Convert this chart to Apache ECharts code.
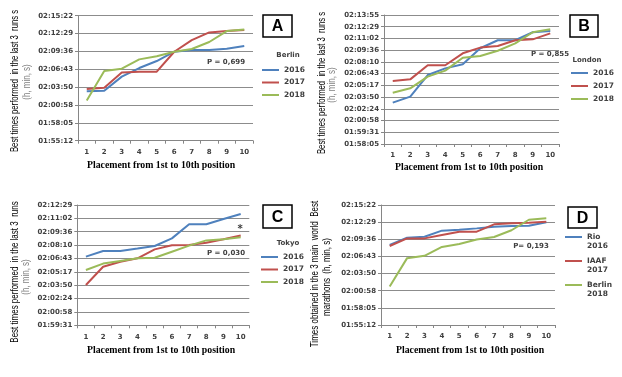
<!DOCTYPE html>
<html><head><meta charset="utf-8">
<script src="https://cdn.jsdelivr.net/npm/echarts@6/dist/echarts.min.js"></script>
<style>html,body{margin:0;padding:0;background:#fff}#c{width:622px;height:377px}</style>
</head><body><div id="c"></div>
<script>
// ---- data (times h:mm:ss) ----
const positions = ['1','2','3','4','5','6','7','8','9','10'];
const berlin2016 = ['2:03:10','2:03:16','2:05:32','2:06:55','2:08:03','2:09:33','2:09:50','2:09:50','2:10:02','2:10:28'];
const berlin2017 = ['2:03:32','2:03:45','2:06:13','2:06:20','2:06:20','2:09:33','2:11:26','2:12:40','2:12:53','2:13:03'];
const berlin2018 = ['2:01:40','2:06:26','2:06:49','2:08:19','2:08:49','2:09:33','2:09:59','2:11:07','2:12:53','2:13:09'];
const london2016 = ['2:03:10','2:03:54','2:06:33','2:07:22','2:07:52','2:09:50','2:10:49','2:10:49','2:11:48','2:11:57'];
const london2017 = ['2:05:49','2:06:01','2:07:45','2:07:45','2:09:13','2:09:55','2:10:07','2:10:49','2:10:56','2:11:40'];
const london2018 = ['2:04:23','2:04:55','2:06:21','2:07:05','2:08:40','2:08:53','2:09:32','2:10:26','2:11:48','2:12:10'];
const tokyo2016 = ['2:06:55','2:07:31','2:07:31','2:07:47','2:08:04','2:08:53','2:10:24','2:10:24','2:10:58','2:11:31'];
const tokyo2017 = ['2:03:52','2:05:50','2:06:22','2:06:44','2:07:42','2:08:08','2:08:10','2:08:25','2:08:47','2:09:11'];
const tokyo2018 = ['2:05:29','2:06:10','2:06:27','2:06:44','2:06:48','2:07:27','2:08:06','2:08:40','2:08:47','2:09:00'];
const rio2016 = ['2:08:38','2:09:52','2:10:02','2:11:03','2:11:13','2:11:26','2:11:43','2:11:50','2:11:53','2:12:27'];
const iaaf2017 = ['2:08:28','2:09:45','2:09:45','2:10:19','2:10:53','2:10:53','2:12:07','2:12:17','2:12:23','2:12:34'];
const yearNames = ['2016','2017','2018'];
const worldNames = ['Rio 2016','IAAF 2017','Berlin 2018'];
const pValues = ['P = 0,699','P = 0,855','P = 0,030','P= 0,193'];
// y ranges in thousandths of a day (Excel time axis)
const yMin = [80, 82, 83, 80];
const yMax = [94, 93, 92, 94];
const yStep = [2, 1, 1, 2];

// ---- helpers ----
const toMD = t => { const p = t.split(':').map(Number); return (p[0]*3600+p[1]*60+p[2])/86.4; };
const fmt = v => { let s = Math.round(v*86.4); const h = Math.floor(s/3600); s -= h*3600; const m = Math.floor(s/60); s -= m*60;
  const pad = n => (n<10?'0':'')+n; return pad(h)+':'+pad(m)+':'+pad(s); };

const COLORS = ['#4F81BD','#C0504D','#9BBB59'];
const LBL = {fontFamily:'DejaVu Sans', fontWeight:'bold', fontSize:7, color:'#404040'};
const grids = [
  {left:78, top:15.7, width:175, height:125},
  {left:384, top:15, width:175, height:129},
  {left:77.3, top:205, width:172, height:120.3},
  {left:381, top:205, width:174, height:120}
];
const xAxis = grids.map((g,i)=>({type:'category', gridIndex:i, data:positions, boundaryGap:true,
  axisLine:{lineStyle:{color:'#868686', width:1}}, axisTick:{show:true, length:3, lineStyle:{color:'#868686'}},
  axisLabel:Object.assign({margin:8}, LBL)}));
const yAxis = grids.map((g,i)=>({type:'value', gridIndex:i, min:yMin[i], max:yMax[i], interval:yStep[i],
  axisLine:{show:true, lineStyle:{color:'#868686', width:1}}, axisTick:{show:true, length:3, lineStyle:{color:'#868686'}},
  splitLine:{lineStyle:{color:'#8c8c8c', width:1}},
  axisLabel:Object.assign({margin:5, formatter:fmt}, LBL)}));

const panels = [
  [berlin2016, berlin2017, berlin2018],
  [london2016, london2017, london2018],
  [tokyo2016, tokyo2017, tokyo2018],
  [rio2016, iaaf2017, berlin2018]
];
const series = [];
panels.forEach((arrs,i)=>arrs.forEach((a,j)=>series.push({
  type:'line', name: i===3 ? worldNames[j] : yearNames[j], xAxisIndex:i, yAxisIndex:i,
  data:a.map(toMD), symbol:'none', lineStyle:{width:2, color:COLORS[j]}, itemStyle:{color:COLORS[j]}, animation:false
})));

const legTS = Object.assign({}, LBL, {fontSize:7.5, lineHeight:9});
const legendBase = {orient:'vertical', icon:'rect', itemWidth:17, itemHeight:2, itemGap:3.5, textStyle:legTS, selectedMode:false, padding:0};
const legend = [
  Object.assign({}, legendBase, {left:262, top:65.5, data:yearNames}),
  Object.assign({}, legendBase, {left:571, top:68.5, itemGap:4, data:yearNames}),
  Object.assign({}, legendBase, {left:261, top:252.5, data:yearNames}),
  Object.assign({}, legendBase, {left:565, top:223.5, itemGap:-3, data:worldNames,
    formatter: n => '\n' + n.replace(' ', '\n')})
];

function box(x,y,w,h,letter){
  return {type:'group', children:[
    {type:'rect', shape:{x:x,y:y,width:w,height:h}, style:{fill:'#fff', stroke:'#000', lineWidth:1.5}},
    {type:'text', x:x+w/2, y:y+h/2+1, style:{text:letter, fontFamily:'Liberation Sans', fontWeight:'bold', fontSize:16, fill:'#000', align:'center', verticalAlign:'middle'}}
  ]};
}
function txt(x,y,t,extra){
  return {type:'text', x:x, y:y, style:Object.assign({text:t, fontFamily:'DejaVu Sans', fontWeight:'bold', fontSize:7, fill:'#404040', align:'center', verticalAlign:'middle'}, extra||{})};
}
function ytitle(x,y,t,color,sx){
  return {type:'text', x:x, y:y, rotation:Math.PI/2, scaleX:sx, style:{text:t, fontFamily:'Liberation Sans Narrow, Liberation Sans', fontSize:10, fill:color, align:'center', verticalAlign:'middle'}};
}
function xtitle(x,y,t){
  return {type:'text', x:x, y:y, scaleX:0.98, style:{text:t, fontFamily:'Liberation Serif', fontWeight:'bold', fontSize:10, fill:'#000', align:'center', verticalAlign:'middle'}};
}
const XT = 'Placement from 1st to 10th position';
const graphic = [
  box(263,15,29,22,'A'), box(570,15,28,22,'B'), box(263,205,29,23,'C'), box(568,207,29,21,'D'),
  txt(288,55,'Berlin'), txt(587,60,'London'), txt(288,243,'Tokyo'),
  txt(226,62,pValues[0]), txt(550,54,pValues[1]), txt(226,253,pValues[2]), txt(531,246,pValues[3]),
  txt(240,229,'*',{fontSize:10}),
  ytitle(15,81,'Best times performed  in the last 3  runs s','#000',0.77),
  ytitle(27,82,'(h, min, s)','#808080',0.8),
  ytitle(322,83,'Best times performed  in the last 3  runs s','#000',0.77),
  ytitle(332,85,'(h, min, s)','#808080',0.8),
  ytitle(15,272,'Best times performed  in the last 3  runs','#000',0.8),
  ytitle(26,277,'(h, min, s)','#808080',0.8),
  ytitle(315,274,'Times obtained in the 3 main  world  Best','#000',0.8),
  ytitle(327,277,'marathons  (h, min, s)','#000',0.8),
  xtitle(161,165,XT), xtitle(469,167,XT), xtitle(161,350,XT), xtitle(470,350,XT)
];

const chart = echarts.init(document.getElementById('c'), null, {renderer:'canvas'});
chart.setOption({animation:false, backgroundColor:'#fff', grid:grids, xAxis:xAxis, yAxis:yAxis, series:series, legend:legend, graphic:graphic});
</script></body></html>
